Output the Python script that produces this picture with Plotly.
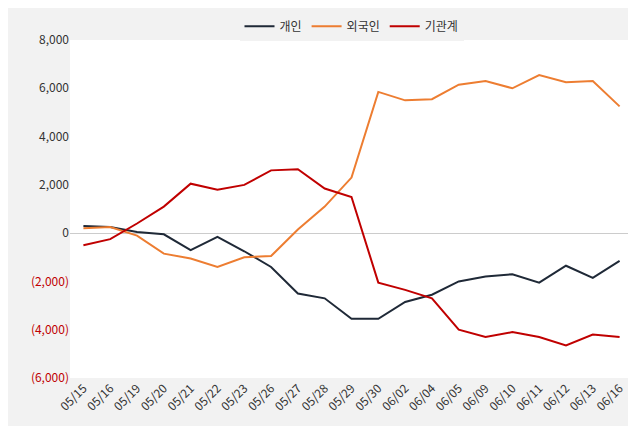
import plotly.graph_objects as go

dates = ["05/15","05/16","05/19","05/20","05/21","05/22","05/23","05/26","05/27","05/28","05/29","05/30","06/02","06/04","06/05","06/09","06/10","06/11","06/12","06/13","06/16"]
individual = [300,250,50,-50,-700,-150,-750,-1400,-2500,-2700,-3550,-3550,-2850,-2550,-2000,-1800,-1700,-2050,-1350,-1850,-1150]
foreign = [200,250,-100,-850,-1050,-1400,-1000,-950,150,1100,2300,5850,5500,5550,6150,6300,6000,6550,6250,6300,5250]
institution = [-500,-250,400,1100,2050,1800,2000,2600,2650,1850,1500,-2050,-2350,-2700,-4000,-4300,-4100,-4300,-4650,-4200,-4300]
tickvals = [-6000,-4000,-2000,0,2000,4000,6000,8000]
ticklabels = ["(6,000)","(4,000)","(2,000)","0","2,000","4,000","6,000","8,000"]
ticktext = [f"<span style='color:#c00000'>{t}</span>" if v < 0 else t for v, t in zip(tickvals, ticklabels)]

fig = go.Figure()
for name, vals, c in [("개인", individual, "#1f2937"), ("외국인", foreign, "#ed7d31"), ("기관계", institution, "#c00000")]:
    fig.add_trace(go.Scatter(x=dates, y=vals, name=name, mode="lines", line=dict(color=c, width=2)))

fig.update_layout(
    width=636, height=426, paper_bgcolor="#f2f2f2", plot_bgcolor="white",
    margin=dict(l=62, r=11, t=32, b=56, autoexpand=False),
    font=dict(family="Noto Sans CJK KR", size=12, color="#333"),
    legend=dict(orientation="h", x=0.5, xanchor="center", y=1.041, yanchor="middle", font=dict(size=12)),
    showlegend=True,
)
fig.update_xaxes(tickangle=-45, showgrid=False, tickfont=dict(size=12), range=[-0.5, 20.5])
fig.update_yaxes(range=[-6000, 8000], tickvals=tickvals, ticktext=ticktext, showgrid=False,
                 zeroline=True, zerolinecolor="#cccccc", zerolinewidth=1, tickfont=dict(size=12))
fig.write_html("out.html")
